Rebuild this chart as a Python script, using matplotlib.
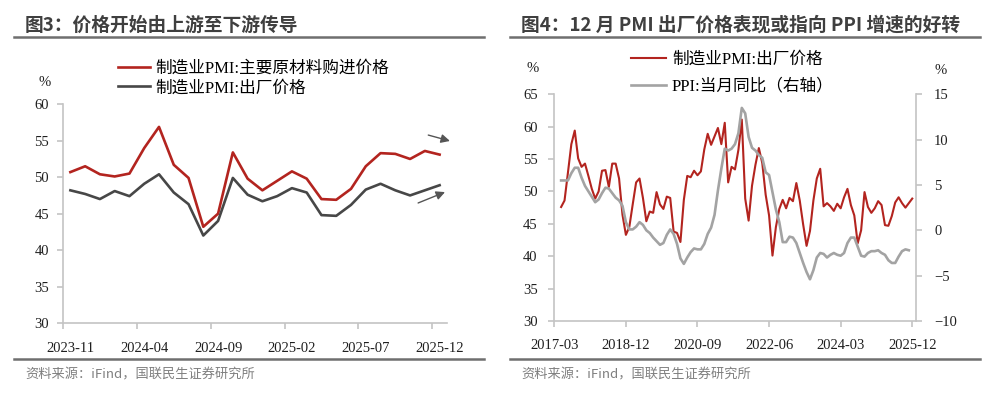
import numpy as np
import pandas as pd
import matplotlib.pyplot as plt
from matplotlib.lines import Line2D

# ---------------- data ----------------
# 图3: monthly, 2023-11 .. 2025-12
left_months = pd.period_range("2023-11", "2025-12", freq="M")
raw_price = [50.7, 51.5, 50.4, 50.1, 50.5, 54.0, 56.9, 51.7, 49.9, 43.2,
             45.0, 53.4, 49.8, 48.2, 49.5, 50.8, 49.8, 47.0, 46.9, 48.4,
             51.5, 53.3, 53.2, 52.5, 53.6, 53.1]
out_price = [48.2, 47.7, 47.0, 48.1, 47.4, 49.1, 50.4, 47.9, 46.3, 42.0,
             44.0, 49.9, 47.6, 46.7, 47.4, 48.5, 47.9, 44.8, 44.7, 46.2,
             48.3, 49.1, 48.2, 47.5, 48.2, 48.9]

# 图4: PMI output price 2017-05 .. 2025-12, PPI yoy 2017-05 .. 2025-11
pmi_months = pd.period_range("2017-05", "2025-12", freq="M")
pmi_out = [47.6, 48.6, 52.9, 57.3, 59.4, 55.1, 53.8, 54.3,
           52.4, 50.4, 48.9, 50.0, 53.2, 53.3, 50.7, 54.3, 54.3, 52.0, 46.4, 43.3,
           44.5, 48.0, 51.4, 52.0, 49.0, 45.4, 46.9, 46.7, 49.9, 48.0, 47.3, 49.2,
           49.0, 43.8, 43.6, 42.2, 48.7, 52.4, 52.2, 53.2, 52.5, 53.1, 56.5, 58.9,
           57.2, 58.5, 59.8, 57.3, 60.6, 51.4, 53.8, 53.4, 56.4, 61.1, 48.9, 45.5,
           50.9, 54.1, 56.7, 54.4, 49.5, 46.3, 40.1, 44.5, 47.3, 48.7, 47.4, 49.0,
           48.5, 51.3, 48.6, 44.9, 41.6, 43.9, 48.6, 52.0, 53.5, 47.7, 48.2, 47.7,
           47.0, 48.1, 47.4, 49.1, 50.4, 47.9, 46.3, 42.0, 44.0, 49.9, 47.6, 46.7,
           47.4, 48.5, 47.9, 44.8, 44.7, 46.2, 48.3, 49.1, 48.2, 47.5, 48.2, 48.9]
ppi_months = pd.period_range("2017-05", "2025-11", freq="M")
ppi_yoy = [5.5, 5.5, 5.5, 6.3, 6.9, 6.9, 5.8, 4.9,
           4.3, 3.7, 3.1, 3.4, 4.1, 4.7, 4.6, 4.1, 3.6, 3.3, 2.7, 0.9,
           0.1, 0.1, 0.4, 0.9, 0.6, 0.0, -0.3, -0.8, -1.2, -1.6, -1.4, -0.5,
           0.1, -0.4, -1.5, -3.1, -3.7, -3.0, -2.4, -2.0, -2.1, -2.1, -1.5, -0.4,
           0.3, 1.7, 4.4, 6.8, 9.0, 8.8, 9.0, 9.5, 10.7, 13.5, 12.9, 10.3,
           9.1, 8.8, 8.3, 8.0, 6.4, 6.1, 4.2, 2.3, 0.9, -1.3, -1.3, -0.7,
           -0.8, -1.4, -2.5, -3.6, -4.6, -5.4, -4.4, -3.0, -2.5, -2.6, -3.0, -2.7,
           -2.5, -2.7, -2.8, -2.5, -1.4, -0.8, -0.8, -1.8, -2.8, -2.9, -2.5, -2.3,
           -2.3, -2.2, -2.5, -2.7, -3.3, -3.6, -3.6, -2.9, -2.3, -2.1, -2.2]
right_ticks = ["2017-03", "2018-12", "2020-09", "2022-06", "2024-03", "2025-12"]

# ---------------- style ----------------
W, H = 994, 396
RED = "#b3241f"
DARK = "#474747"
LIGHT = "#a3a3a3"
AXC = "#c4c4c4"
TITLE_C = "#3f3f3f"
NUM = "Liberation Serif"
MIX = ["Liberation Serif", "Noto Sans CJK SC"]
SANS = ["Noto Sans CJK SC", "DejaVu Sans"]


def fx(px):
    return px / W


def fy(py):
    return 1 - py / H


fig = plt.figure(figsize=(W / 100, H / 100), dpi=100)

# titles, rules, sources
for x0, x1, title in [(14, 484, "图3：价格开始由上游至下游传导"),
                      (510, 980, "图4：12 月 PMI 出厂价格表现或指向 PPI 增速的好转")]:
    fig.text(fx(x0 + 11), fy(25), title, family=SANS, fontsize=13.5, fontweight="bold",
             color=TITLE_C, va="center", ha="left")
    fig.add_artist(Line2D([fx(x0), fx(x1)], [fy(37), fy(37)], color="#6f6f6f", lw=1.8))
    fig.add_artist(Line2D([fx(x0), fx(x1)], [fy(359), fy(359)], color="#6f6f6f", lw=1.8))
    fig.text(fx(x0 + 11), fy(375), "资料来源：iFind，国联民生证券研究所", family=SANS,
             fontsize=9.5, color="#7f7f7f", va="center", ha="left")


def style_axes(ax):
    for s in ["top", "right"]:
        ax.spines[s].set_visible(False)
    for s in ["left", "bottom"]:
        ax.spines[s].set_color(AXC)
        ax.spines[s].set_linewidth(1.2)
    ax.tick_params(colors=AXC, labelcolor="#1f1f1f", labelsize=10.5, length=4, width=1.2)
    for lab in ax.get_xticklabels() + ax.get_yticklabels():
        lab.set_family(NUM)


# ---------------- left chart ----------------
ax1 = fig.add_axes([fx(63), fy(323), fx(447) - fx(63), fy(104.3) - fy(323)])
xl = np.arange(len(left_months))
ax1.plot(xl, raw_price, color=RED, lw=1.9, label="制造业PMI:主要原材料购进价格")
ax1.plot(xl, out_price, color=DARK, lw=1.9, label="制造业PMI:出厂价格")
ax1.set_xlim(-0.5, len(left_months) - 0.5)
ax1.set_ylim(30, 60)
ax1.set_yticks(np.arange(30, 61, 5))
lab_idx = xl[::5]
ax1.set_xticks(lab_idx)
ax1.set_xticklabels([str(left_months[i]) for i in lab_idx])
ax1.set_xticks(lab_idx - 0.5, minor=True)
style_axes(ax1)
ax1.tick_params(axis="x", which="major", length=0, pad=14)
ax1.tick_params(axis="x", which="minor", length=4, width=1.2, color=AXC)
ax1.tick_params(axis="y", pad=6)
ax1.annotate("", xy=(25.88, 54.87), xytext=(24.05, 55.88),
             arrowprops=dict(arrowstyle="-|>", color="#555555", lw=1.0, mutation_scale=13),
             annotation_clip=False)
ax1.annotate("", xy=(25.54, 48.1), xytext=(23.37, 46.32),
             arrowprops=dict(arrowstyle="-|>", color="#555555", lw=1.0, mutation_scale=13),
             annotation_clip=False)
fig.text(fx(45), fy(83), "%", family=NUM, fontsize=10.5, color="#1f1f1f", ha="center", va="center")
fig.legend(*ax1.get_legend_handles_labels(), loc="upper left",
           bbox_to_anchor=(fx(118), fy(61)), frameon=False, prop={"family": MIX, "size": 12},
           handlelength=1.9, handletextpad=0.35, labelspacing=0.2, borderpad=0, borderaxespad=0)

# ---------------- right chart ----------------
ax2 = fig.add_axes([fx(554.3), fy(321), fx(916) - fx(554.3), fy(94.3) - fy(321)])
start = pd.Period(right_ticks[0], freq="M")
xm_pmi = np.array([(p - start).n for p in pmi_months])
xm_ppi = np.array([(p - start).n for p in ppi_months])
ax2.plot(xm_pmi, pmi_out, color=RED, lw=1.5, label="制造业PMI:出厂价格")
ax2.set_ylim(30, 65)
ax2.set_yticks(np.arange(30, 66, 5))
ax2.set_xlim(0, 106.1)
tick_pos = [(pd.Period(t, freq="M") - start).n for t in right_ticks]
ax2.set_xticks(tick_pos)
ax2.set_xticklabels(right_ticks)
style_axes(ax2)
ax2.tick_params(axis="x", pad=9)
ax2.tick_params(axis="y", pad=8)

ax3 = ax2.twinx()
ax3.plot(xm_ppi, ppi_yoy, color=LIGHT, lw=1.9, label="PPI:当月同比（右轴）")
ax3.set_ylim(-10, 15)
ax3.set_yticks(np.arange(-10, 16, 5))
for s in ["top", "left", "bottom"]:
    ax3.spines[s].set_visible(False)
ax3.spines["right"].set_color(AXC)
ax3.spines["right"].set_linewidth(1.2)
ax3.tick_params(colors=AXC, labelcolor="#1f1f1f", labelsize=10.5, length=4, width=1.2, pad=9)
for lab in ax3.get_yticklabels():
    lab.set_family(NUM)

fig.text(fx(533), fy(68), "%", family=NUM, fontsize=10.5, color="#1f1f1f", ha="center", va="center")
fig.text(fx(941), fy(70), "%", family=NUM, fontsize=10.5, color="#1f1f1f", ha="center", va="center")
h2, l2 = ax2.get_legend_handles_labels()
h3, l3 = ax3.get_legend_handles_labels()
fig.legend(h2 + h3, l2 + l3, loc="upper left", bbox_to_anchor=(fx(631), fy(52)), frameon=False,
           prop={"family": MIX, "size": 12}, handlelength=2.1, handletextpad=0.35,
           labelspacing=0.65, borderpad=0, borderaxespad=0)

fig.savefig("out.png", dpi=100)
